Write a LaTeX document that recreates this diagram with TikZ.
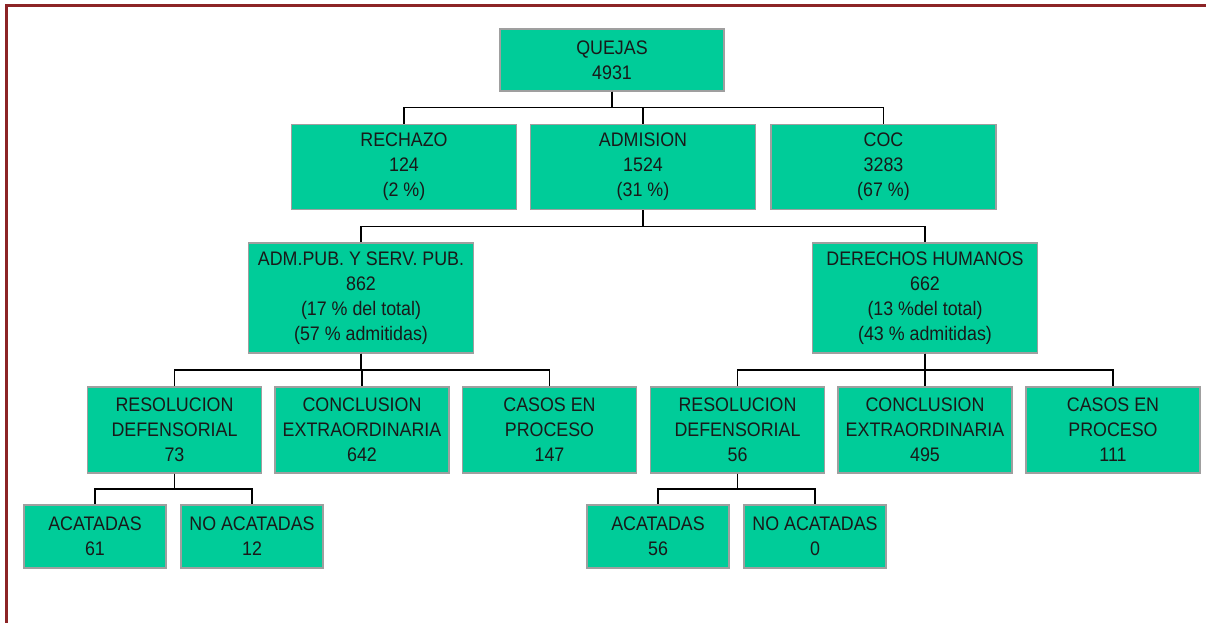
\documentclass[tikz,border=0pt]{standalone}
\usepackage{fontspec}
\setmainfont{Liberation Sans}[FakeStretch=0.91]
\usepackage{tikz}
\usetikzlibrary{calc}
\definecolor{verde}{RGB}{0,204,153}
\definecolor{borde}{RGB}{140,36,38}
\tikzset{
  caja/.style={draw=gray!75, fill=verde, line width=1.2pt, inner sep=0pt, align=center,
    text=black!90, font=\fontsize{19.6}{25}\selectfont},
  niv1/.style={caja, minimum width=224pt, minimum height=62pt},
  niv2/.style={caja, minimum width=225pt, minimum height=85pt},
  niv3/.style={caja, minimum width=225pt, minimum height=110pt},
  niv4/.style={caja, minimum width=174pt, minimum height=86pt},
  niv5/.style={caja, minimum width=142pt, minimum height=63pt},
  linea/.style={draw=black, line width=1.1pt}
}
\newcommand{\rama}[2]{\draw[linea] (#1.south) -- ($(#1.south)!0.5!(#1.south |- #2.north)$) -| (#2.north);}

\begin{document}
\begin{tikzpicture}[x=1pt, y=-1pt]
        \useasboundingbox (0,0) rectangle (1206,623);
        % marco
        \draw[borde, line width=2.5pt] (6.3,623) |- (1206,5.5);
        % nivel 1
        \node[niv1] (quejas) at (612,60) {QUEJAS\\4931};
        % nivel 2
        \node[niv2] (rechazo) at (404,167) {RECHAZO\\124\\(2 \%)};
        \node[niv2] (admision) at (643,167) {ADMISION\\1524\\(31 \%)};
        \node[niv2] (coc) at (883.5,167) {COC\\3283\\(67 \%)};
        % nivel 3
        \node[niv3] (adm) at (361,298) {ADM.PUB. Y SERV. PUB.\\862\\(17 \% del total)\\(57 \% admitidas)};
        \node[niv3] (ddhh) at (925,298) {DERECHOS HUMANOS\\662\\(13 \%del total)\\(43 \% admitidas)};
        % nivel 4
        \node[niv4] (resA) at (174.5,430) {RESOLUCION\\DEFENSORIAL\\73};
        \node[niv4] (concA) at (362,430) {CONCLUSION\\EXTRAORDINARIA\\642};
        \node[niv4] (casosA) at (549.5,430) {CASOS EN\\PROCESO\\147};
        \node[niv4] (resB) at (737.5,430) {RESOLUCION\\DEFENSORIAL\\56};
        \node[niv4] (concB) at (925,430) {CONCLUSION\\EXTRAORDINARIA\\495};
        \node[niv4] (casosB) at (1113,430) {CASOS EN\\PROCESO\\111};
        % nivel 5
        \node[niv5] (acatA) at (95,536.5) {ACATADAS\\61};
        \node[niv5] (noacatA) at (252,536.5) {NO ACATADAS\\12};
        \node[niv5] (acatB) at (658,536.5) {ACATADAS\\56};
        \node[niv5] (noacatB) at (815,536.5) {NO ACATADAS\\0};
        % ramas
        \rama{quejas}{rechazo}
        \rama{quejas}{admision}
        \rama{quejas}{coc}
        \rama{admision}{adm}
        \rama{admision}{ddhh}
        \rama{adm}{resA}
        \rama{adm}{concA}
        \rama{adm}{casosA}
        \rama{ddhh}{resB}
        \rama{ddhh}{concB}
        \rama{ddhh}{casosB}
        \rama{resA}{acatA}
        \rama{resA}{noacatA}
        \rama{resB}{acatB}
        \rama{resB}{noacatB}
    \end{tikzpicture}
\end{document}
